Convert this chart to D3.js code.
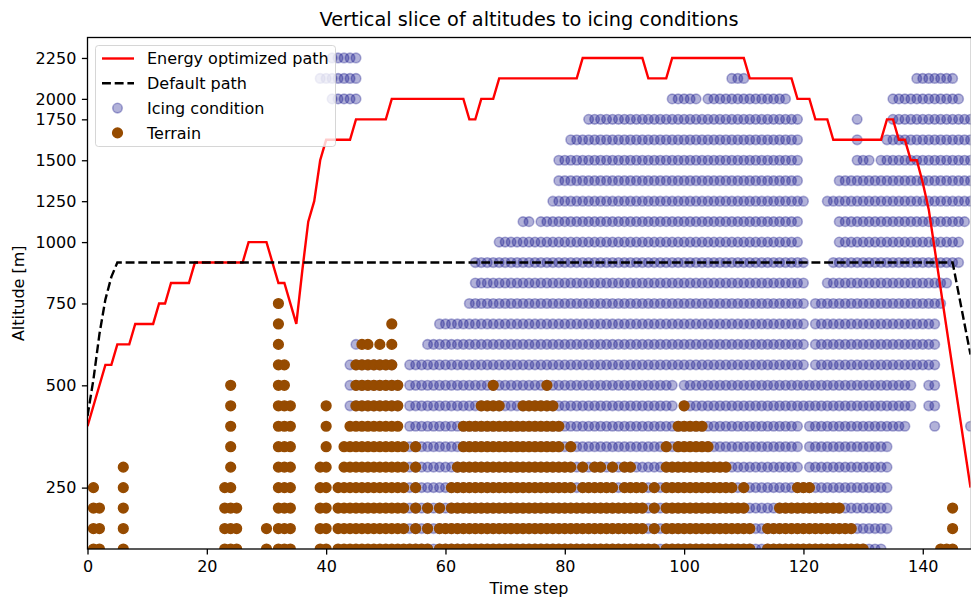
<!DOCTYPE html>
<html>
<head>
<meta charset="utf-8">
<title>Vertical slice of altitudes to icing conditions</title>
<script src="https://cdn.jsdelivr.net/npm/d3@7/dist/d3.min.js"></script>
<style>
  body { margin: 0; background: #fff; }
  svg { display: block; font-family: "DejaVu Sans", sans-serif; }
  .axis text { font-size: 16px; fill: #000; font-family: "DejaVu Sans", sans-serif; }
  .axis line { stroke: #000; stroke-width: 1.3px; }
</style>
</head>
<body>
<div id="chart"></div>
<script>
// y axis is the altitude level index, labels sit at these levels
const yTickLevels = [3, 8, 12, 15, 17, 19, 21, 22, 24];
const yTickLabels = ["250", "500", "750", "1000", "1250", "1500", "1750", "2000", "2250"];
const xTicks = [0, 20, 40, 60, 80, 100, 120, 140];

// icing condition, one entry per level (0 = lowest), runs of time steps [from, to]
const icingRuns = [
  [[54, 133]],
  [[54, 134]],
  [[54, 134]],
  [[54, 134]],
  [[54, 119], [121, 134]],
  [[54, 119], [121, 134]],
  [[54, 119], [121, 137], [142, 142], [148, 148]],
  [[44, 52], [54, 98], [100, 138], [141, 142]],
  [[44, 52], [54, 98], [100, 138], [141, 142]],
  [[44, 51], [54, 120], [122, 142]],
  [[45, 45], [57, 120], [122, 142]],
  [[59, 120], [122, 142]],
  [[64, 120], [122, 143]],
  [[65, 120], [124, 144]],
  [[65, 120], [125, 146]],
  [[69, 119], [126, 146]],
  [[73, 74], [76, 119], [126, 147]],
  [[78, 120], [124, 148]],
  [[79, 119], [126, 148]],
  [[79, 119], [129, 131], [133, 148]],
  [[81, 119], [129, 129], [134, 148]],
  [[84, 119], [129, 129], [135, 148]],
  [[41, 45], [98, 102], [104, 117], [135, 146]],
  [[39, 45], [108, 110], [139, 145]],
  [[41, 45]]
];

// terrain, same layout
const terrainRuns = [
  [[1, 2], [6, 6], [23, 25], [30, 30], [32, 34], [39, 40], [42, 57], [59, 95], [97, 111], [114, 130], [143, 145]],
  [[1, 2], [6, 6], [23, 25], [30, 30], [32, 34], [39, 40], [42, 53], [55, 55], [57, 57], [59, 93], [95, 95], [97, 111], [114, 128], [145, 145]],
  [[1, 2], [6, 6], [23, 25], [32, 34], [39, 40], [42, 53], [55, 55], [57, 57], [59, 59], [61, 93], [95, 95], [97, 110], [116, 126], [145, 145]],
  [[1, 1], [6, 6], [23, 24], [32, 34], [39, 40], [42, 53], [55, 55], [61, 81], [83, 88], [90, 93], [95, 95], [97, 108], [110, 110], [119, 121]],
  [[6, 6], [24, 24], [32, 34], [39, 40], [43, 53], [55, 55], [62, 81], [83, 83], [85, 86], [88, 88], [90, 91], [97, 107]],
  [[24, 24], [32, 34], [40, 40], [43, 53], [55, 55], [63, 79], [81, 81], [97, 97], [99, 104]],
  [[24, 24], [32, 34], [40, 40], [44, 52], [63, 79], [99, 103]],
  [[24, 24], [32, 34], [40, 40], [45, 52], [66, 69], [73, 78], [100, 100]],
  [[24, 24], [32, 33], [45, 52], [68, 68], [77, 77]],
  [[32, 33], [45, 51]],
  [[32, 32], [46, 47], [49, 49], [51, 51]],
  [[32, 32], [51, 51]],
  [[32, 32]]
];

// [time step, level]
const energyPath = [
  [0, 6], [3, 9], [4, 9], [5, 10], [7, 10], [8, 11], [11, 11], [12, 12], [13, 12],
  [14, 13], [17, 13], [18, 14], [26, 14], [27, 15], [30, 15], [32, 13], [33, 13],
  [35, 11], [36, 13.6], [37, 16], [38, 17], [39, 19], [40, 20], [44, 20], [45, 21],
  [50, 21], [51, 22], [63, 22], [64, 21], [65, 21], [66, 22], [68, 22], [69, 23],
  [82, 23], [83, 24], [93, 24], [94, 23], [97, 23], [98, 24], [110, 24], [111, 23],
  [118, 23], [119, 22], [121, 22], [122, 21], [124, 21], [125, 20], [133, 20],
  [134, 21], [135, 21], [136, 20], [137, 20], [138, 19], [139, 19], [140, 17.9],
  [141, 16.6], [148, 3]
];
const defaultPath = [
  [0, 6.5], [1, 8.3], [2, 10.5], [3, 12.2], [4, 13.3], [5, 14], [145, 14],
  [146, 12.5], [147, 11], [148, 9.5]
];

const width = 971, height = 597;
const x = d3.scaleLinear().domain([0, 148]).range([87.5, 970.5]);
const y = d3.scaleLinear().domain([0, 25]).range([549, 37.5]);

const svg = d3.select("#chart").append("svg")
  .attr("width", width)
  .attr("height", height);

svg.append("clipPath").attr("id", "plot-clip")
  .append("rect")
  .attr("x", x(0)).attr("y", y(25))
  .attr("width", x(148) - x(0)).attr("height", y(0) - y(25));

// runs -> points
function expand(runs) {
  const pts = [];
  runs.forEach((row, level) => {
    row.forEach(([a, b]) => {
      d3.range(a, b + 1).forEach(t => pts.push({ t: t, level: level }));
    });
  });
  return pts;
}

const icingColor = "#000080";
const terrainColor = "#964b00";
const dotR = 4.8;
const dotEdge = 1.6;

const plot = svg.append("g").attr("clip-path", "url(#plot-clip)");

// marker edge drawn in the face colour, like matplotlib scatter
plot.append("g").selectAll("circle")
  .data(expand(icingRuns))
  .enter().append("circle")
  .attr("cx", d => x(d.t))
  .attr("cy", d => y(d.level))
  .attr("r", dotR)
  .attr("fill", icingColor)
  .attr("fill-opacity", 0.3)
  .attr("stroke", icingColor)
  .attr("stroke-opacity", 0.3)
  .attr("stroke-width", dotEdge);

plot.append("g").selectAll("circle")
  .data(expand(terrainRuns))
  .enter().append("circle")
  .attr("cx", d => x(d.t))
  .attr("cy", d => y(d.level))
  .attr("r", dotR)
  .attr("fill", terrainColor)
  .attr("stroke", terrainColor)
  .attr("stroke-width", dotEdge);

const line = d3.line().x(d => x(d[0])).y(d => y(d[1]));

plot.append("path")
  .datum(energyPath)
  .attr("d", line)
  .attr("fill", "none")
  .attr("stroke", "#ff0000")
  .attr("stroke-width", 2.4);

plot.append("path")
  .datum(defaultPath)
  .attr("d", line)
  .attr("fill", "none")
  .attr("stroke", "#000")
  .attr("stroke-width", 2.4)
  .attr("stroke-dasharray", "8.9,3.8");

// axes
svg.append("g")
  .attr("class", "axis")
  .attr("transform", `translate(0,${y(0)})`)
  .call(d3.axisBottom(x).tickValues(xTicks).tickSize(5.6).tickPadding(5.6).tickSizeOuter(0))
  .call(g => g.select(".domain").remove());

svg.append("g")
  .attr("class", "axis")
  .attr("transform", `translate(${x(0)},0)`)
  .call(d3.axisLeft(y).tickValues(yTickLevels).tickFormat((d, i) => yTickLabels[i])
    .tickSize(5.6).tickPadding(5.6).tickSizeOuter(0))
  .call(g => g.select(".domain").remove());

svg.append("rect")
  .attr("x", x(0)).attr("y", y(25))
  .attr("width", x(148) - x(0) + 1).attr("height", y(0) - y(25))
  .attr("fill", "none")
  .attr("stroke", "#000")
  .attr("stroke-width", 1.3);

// labels
svg.append("text")
  .attr("x", (x(0) + x(148)) / 2)
  .attr("y", 26)
  .attr("text-anchor", "middle")
  .style("font-size", "19.3px")
  .text("Vertical slice of altitudes to icing conditions");

svg.append("text")
  .attr("x", (x(0) + x(148)) / 2)
  .attr("y", 594)
  .attr("text-anchor", "middle")
  .style("font-size", "16px")
  .text("Time step");

svg.append("text")
  .attr("transform", `translate(24,${(y(0) + y(25)) / 2}) rotate(-90)`)
  .attr("text-anchor", "middle")
  .style("font-size", "16px")
  .text("Altitude [m]");

// legend
const legendItems = [
  { label: "Energy optimized path", kind: "line", color: "#ff0000" },
  { label: "Default path", kind: "dash", color: "#000" },
  { label: "Icing condition", kind: "dot", color: icingColor, opacity: 0.3 },
  { label: "Terrain", kind: "dot", color: terrainColor, opacity: 1 }
];

const legend = svg.append("g").attr("transform", "translate(95.5,45.5)");

legend.append("rect")
  .attr("width", 240).attr("height", 101)
  .attr("rx", 3).attr("ry", 3)
  .attr("fill", "#fff").attr("fill-opacity", 0.8)
  .attr("stroke", "#ccc").attr("stroke-opacity", 0.8);

legendItems.forEach((item, i) => {
  const row = legend.append("g").attr("transform", `translate(0,${13 + i * 24.8})`);
  if (item.kind === "dot") {
    row.append("circle")
      .attr("cx", 22).attr("cy", 0).attr("r", dotR)
      .attr("fill", item.color).attr("fill-opacity", item.opacity)
      .attr("stroke", item.color).attr("stroke-opacity", item.opacity)
      .attr("stroke-width", dotEdge);
  } else {
    row.append("line")
      .attr("x1", 6.5).attr("x2", 38.5)
      .attr("stroke", item.color).attr("stroke-width", 2.4)
      .attr("stroke-dasharray", item.kind === "dash" ? "8.9,3.8" : null);
  }
  row.append("text")
    .attr("x", 51.5).attr("dy", "0.36em")
    .style("font-size", "16px")
    .text(item.label);
});
</script>
</body>
</html>
